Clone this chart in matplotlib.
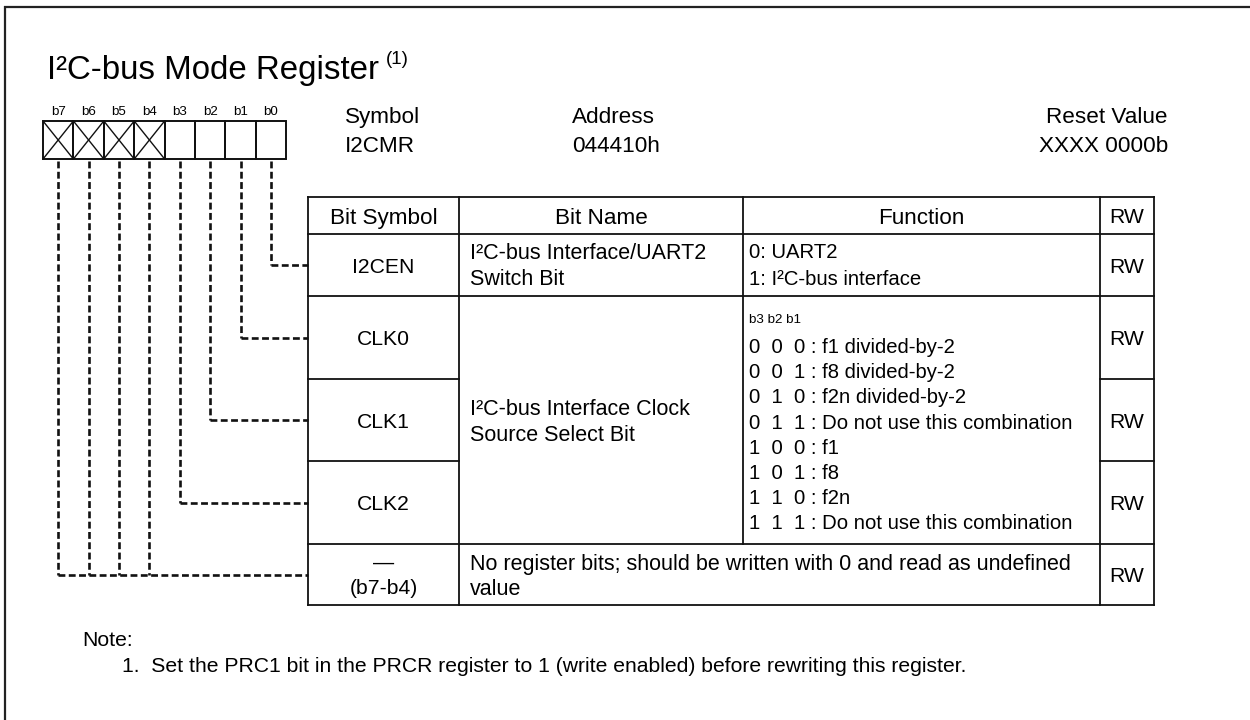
import matplotlib.pyplot as plt
from matplotlib.patches import Rectangle

plt.rcParams["font.family"] = ["Liberation Sans", "DejaVu Sans"]

# ---- content -------------------------------------------------------------
TITLE = "I²C-bus Mode Register"
TITLE_NOTE = "(1)"
BIT_LABELS = ["b7", "b6", "b5", "b4", "b3", "b2", "b1", "b0"]
RESERVED = [True, True, True, True, False, False, False, False]

SYMBOL = "I2CMR"
ADDRESS = "044410h"
RESET_VALUE = "XXXX 0000b"

HEADERS = ["Bit Symbol", "Bit Name", "Function", "RW"]
BIT_SYMBOLS = ["I2CEN", "CLK0", "CLK1", "CLK2", "—\n(b7-b4)"]
ROW_BITS = [["b0"], ["b1"], ["b2"], ["b3"], ["b7", "b6", "b5", "b4"]]
RW = ["RW", "RW", "RW", "RW", "RW"]

NAME_SWITCH = ["I²C-bus Interface/UART2", "Switch Bit"]
FUNC_SWITCH = ["0: UART2", "1: I²C-bus interface"]
NAME_CLOCK = ["I²C-bus Interface Clock", "Source Select Bit"]
CLOCK_HEAD = "b3 b2 b1"
CLOCK_CODES = ["0  0  0", "0  0  1", "0  1  0", "0  1  1",
               "1  0  0", "1  0  1", "1  1  0", "1  1  1"]
CLOCK_SOURCES = ["f1 divided-by-2", "f8 divided-by-2", "f2n divided-by-2",
                 "Do not use this combination", "f1", "f8", "f2n",
                 "Do not use this combination"]
RESERVED_TEXT = ["No register bits; should be written with 0 and read as undefined",
                 "value"]

NOTE_HEAD = "Note:"
NOTES = ["1.  Set the PRC1 bit in the PRCR register to 1 (write enabled) before "
         "rewriting this register."]

# ---- layout (pixel coordinates, y downwards) -----------------------------
W, H = 1250, 720
BOX_X0, BOX_W, BOX_TOP, BOX_BOT = 43, 30.4, 121, 159
COLS = [308, 459, 743, 1100, 1154]
ROWS = [197, 234, 296, 379, 461, 544, 605]
FS_HEAD = 16.2   # header row, symbol/address block
FS_SYM = 15.2    # bit symbol / RW column
FS_NAME = 15.5   # bit name column
FS_FUNC = 14.6   # function column
FS_NOTE = 15.2
LINE = "#111111"
DASH = dict(color=LINE, lw=1.9, dashes=(2.6, 1.3))

fig = plt.figure(figsize=(W / 100, H / 100), dpi=100)
ax = fig.add_axes([0, 0, 1, 1])
ax.set_xlim(0, W)
ax.set_ylim(H, 0)
ax.axis("off")


def put(x, yc, s, fs, ha="left"):
    """Text whose capitals are centred on yc."""
    return ax.text(x, yc + 0.358 * fs * 100 / 72, s, fontsize=fs,
                   ha=ha, va="baseline")


# frame (top and left only)
ax.plot([4, W], [7, 7], color="#222222", lw=1.6, solid_capstyle="butt")
ax.plot([5, 5], [6, H], color="#222222", lw=1.6, solid_capstyle="butt")

# title
t = ax.text(47, 78.5, TITLE, fontsize=23.8, va="baseline", ha="left")
bb = t.get_window_extent(renderer=fig.canvas.get_renderer())
ax.text(bb.x1 + 7, 64, TITLE_NOTE, fontsize=13.5, va="baseline", ha="left")

# bit boxes
bit_x = {}
for i, (lbl, res) in enumerate(zip(BIT_LABELS, RESERVED)):
    x0 = BOX_X0 + i * BOX_W
    cx = x0 + BOX_W / 2
    bit_x[lbl] = cx
    ax.add_patch(Rectangle((x0, BOX_TOP), BOX_W, BOX_BOT - BOX_TOP,
                           fill=False, ec=LINE, lw=1.4))
    if res:
        ax.plot([x0, x0 + BOX_W], [BOX_TOP, BOX_BOT], color=LINE, lw=1.0)
        ax.plot([x0, x0 + BOX_W], [BOX_BOT, BOX_TOP], color=LINE, lw=1.0)
    put(cx, 110.5, lbl, 9.6, ha="center")

# symbol / address / reset value
put(345, 115, "Symbol", FS_HEAD)
put(345, 144, SYMBOL, FS_HEAD)
put(572, 115, "Address", FS_HEAD)
put(572, 144, ADDRESS, FS_HEAD)
put(1168, 115, "Reset Value", FS_HEAD, ha="right")
put(1168, 144, RESET_VALUE, FS_HEAD, ha="right")


# table grid
def hline(y, x0, x1):
    ax.plot([x0, x1], [y, y], color=LINE, lw=1.3, solid_capstyle="projecting")


def vline(x, y0, y1):
    ax.plot([x, x], [y0, y1], color=LINE, lw=1.3, solid_capstyle="projecting")


for y in (ROWS[0], ROWS[1], ROWS[2], ROWS[5], ROWS[6]):
    hline(y, COLS[0], COLS[4])
for y in (ROWS[3], ROWS[4]):
    hline(y, COLS[0], COLS[1])
    hline(y, COLS[3], COLS[4])
vline(COLS[0], ROWS[0], ROWS[6])
vline(COLS[1], ROWS[0], ROWS[6])
vline(COLS[2], ROWS[0], ROWS[5])
vline(COLS[3], ROWS[0], ROWS[6])
vline(COLS[4], ROWS[0], ROWS[6])

# header
hy = (ROWS[0] + ROWS[1]) / 2
for j, h in enumerate(HEADERS):
    fs = FS_SYM if h == "RW" else FS_HEAD
    put((COLS[j] + COLS[j + 1]) / 2, hy, h, fs, ha="center")

# bit symbol and RW cells, plus dashed leader lines
for r, (sym, rw, bits) in enumerate(zip(BIT_SYMBOLS, RW, ROW_BITS)):
    cy = (ROWS[r + 1] + ROWS[r + 2]) / 2
    sx = (COLS[0] + COLS[1]) / 2
    if "\n" in sym:
        top, bot = sym.split("\n")
        put(sx, cy - 13, top, FS_SYM, ha="center")
        put(sx, cy + 12, bot, FS_SYM, ha="center")
    else:
        put(sx, cy, sym, FS_SYM, ha="center")
    put((COLS[3] + COLS[4]) / 2, cy, rw, FS_SYM, ha="center")
    xs = [bit_x[b] for b in bits]
    for x in xs:
        ax.plot([x, x], [BOX_BOT + 1.5, cy], **DASH)
    ax.plot([min(xs), COLS[0]], [cy, cy], **DASH)

# I2CEN row
TX_NAME, TX_FUNC = COLS[1] + 11, COLS[2] + 6
put(TX_NAME, 251, NAME_SWITCH[0], FS_NAME)
put(TX_NAME, 277, NAME_SWITCH[1], FS_NAME)
put(TX_FUNC, 251, FUNC_SWITCH[0], FS_FUNC)
put(TX_FUNC, 278, FUNC_SWITCH[1], FS_FUNC)

# clock select rows (merged cells)
put(TX_NAME, 407, NAME_CLOCK[0], FS_NAME)
put(TX_NAME, 433, NAME_CLOCK[1], FS_NAME)
put(TX_FUNC, 318, CLOCK_HEAD, 9.6)
for k, (code, src) in enumerate(zip(CLOCK_CODES, CLOCK_SOURCES)):
    put(TX_FUNC, 346 + k * 25.1, f"{code} : {src}", FS_FUNC)

# reserved row
put(TX_NAME, 562, RESERVED_TEXT[0], FS_NAME)
put(TX_NAME, 587, RESERVED_TEXT[1], FS_NAME)

# notes
put(82, 638, NOTE_HEAD, FS_NOTE)
for k, n in enumerate(NOTES):
    put(122, 664 + k * 26, n, FS_NOTE)

fig.savefig("out.png", dpi=100)
